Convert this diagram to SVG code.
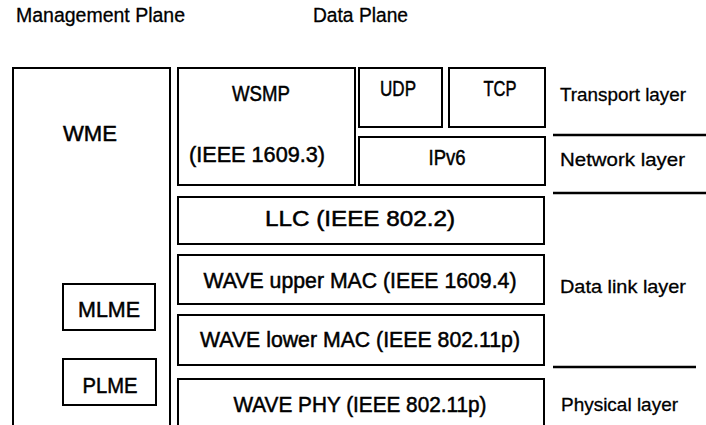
<svg xmlns="http://www.w3.org/2000/svg" width="706" height="425" viewBox="0 0 706 425">
<style>
.box{fill:#fff;stroke:#000;stroke-width:2}
.t{font-family:"Liberation Sans",Arial,sans-serif;font-size:22px;fill:#000;stroke:#000;stroke-width:0.5;text-anchor:middle}
.l{font-family:"Liberation Sans",Arial,sans-serif;font-size:19px;fill:#000;stroke:#000;stroke-width:0.3}
.h{font-family:"Liberation Sans",Arial,sans-serif;font-size:20px;fill:#000;stroke:#000;stroke-width:0.3}
.sep{stroke:#000;stroke-width:2.5}
</style>
<rect width="706" height="425" fill="#fff"/>
<text class="h" x="16" y="22" textLength="169" lengthAdjust="spacingAndGlyphs">Management Plane</text>
<text class="h" x="313" y="22" textLength="95" lengthAdjust="spacingAndGlyphs">Data Plane</text>
<g id="wme"><rect class="box" x="13" y="68" width="157" height="370"/><text class="t" x="90" y="141" textLength="54" lengthAdjust="spacingAndGlyphs">WME</text></g>
<g id="mlme"><rect class="box" x="63" y="284" width="92" height="46"/><text class="t" x="109" y="317" textLength="62" lengthAdjust="spacingAndGlyphs">MLME</text></g>
<g id="plme"><rect class="box" x="63" y="359" width="93" height="46"/><text class="t" x="110" y="393" textLength="55" lengthAdjust="spacingAndGlyphs">PLME</text></g>
<g id="wsmp"><rect class="box" x="178" y="68" width="177" height="117"/><text class="t" x="261" y="101" textLength="58" lengthAdjust="spacingAndGlyphs">WSMP</text><text class="t" x="257" y="162" textLength="136" lengthAdjust="spacingAndGlyphs">(IEEE 1609.3)</text></g>
<g id="udp"><rect class="box" x="359" y="68" width="83" height="59"/><text class="t" x="398" y="96" textLength="36" lengthAdjust="spacingAndGlyphs">UDP</text></g>
<g id="tcp"><rect class="box" x="449" y="68" width="96" height="59"/><text class="t" x="500" y="96" textLength="33" lengthAdjust="spacingAndGlyphs">TCP</text></g>
<g id="ipv6"><rect class="box" x="359" y="137" width="186" height="48"/><text class="t" x="447" y="165" textLength="37" lengthAdjust="spacingAndGlyphs">IPv6</text></g>
<g id="llc"><rect class="box" x="178" y="197" width="366" height="47"/><text class="t" x="360" y="226" textLength="190" lengthAdjust="spacingAndGlyphs">LLC (IEEE 802.2)</text></g>
<g id="umac"><rect class="box" x="178" y="255" width="366" height="49"/><text class="t" x="360" y="288" textLength="313" lengthAdjust="spacingAndGlyphs">WAVE upper MAC (IEEE 1609.4)</text></g>
<g id="lmac"><rect class="box" x="178" y="315" width="366" height="50"/><text class="t" x="360" y="347" textLength="320" lengthAdjust="spacingAndGlyphs">WAVE lower MAC (IEEE 802.11p)</text></g>
<g id="phy"><rect class="box" x="178" y="379" width="366" height="60"/><text class="t" x="360" y="412" textLength="253" lengthAdjust="spacingAndGlyphs">WAVE PHY (IEEE 802.11p)</text></g>
<g id="layers">
<text class="l" x="560" y="101" textLength="126" lengthAdjust="spacingAndGlyphs">Transport layer</text>
<text class="l" x="560" y="166" textLength="125" lengthAdjust="spacingAndGlyphs">Network layer</text>
<text class="l" x="560" y="293" textLength="126" lengthAdjust="spacingAndGlyphs">Data link layer</text>
<text class="l" x="561" y="411" textLength="117" lengthAdjust="spacingAndGlyphs">Physical layer</text>
</g>
<g id="connectors">
<line class="sep" x1="553" y1="135" x2="706" y2="135"/>
<line class="sep" x1="553" y1="193" x2="706" y2="193"/>
<line class="sep" x1="553" y1="367" x2="696" y2="367"/>
</g>
</svg>
